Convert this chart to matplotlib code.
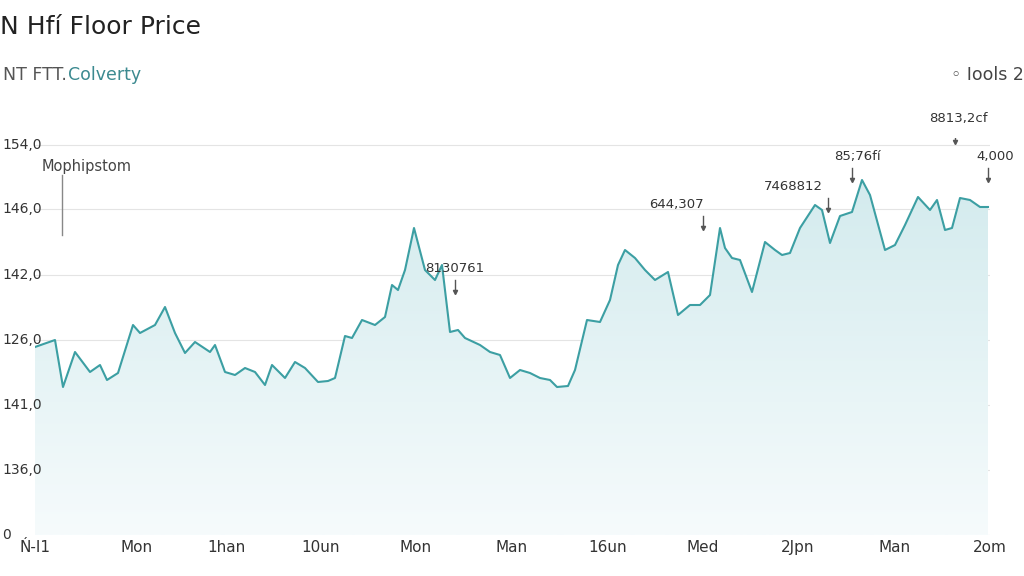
import numpy as np
import matplotlib
matplotlib.use("Agg")
import matplotlib.pyplot as plt
import matplotlib.transforms as mtransforms
from matplotlib.colors import LinearSegmentedColormap

x = [35,55,63,75,90,100,107,118,133,140,155,165,175,185,195,210,215,225,235,245,255,265,272,285,295,305,318,328,335,345,352,362,375,385,392,398,405,414,425,435,442,450,458,465,480,490,500,510,520,530,540,550,557,568,575,587,600,610,618,625,635,645,655,668,678,690,700,710,720,725,732,740,752,765,775,782,790,800,815,822,830,840,852,862,870,885,895,905,918,930,937,945,952,960,970,980,988]
py = [347,340,387,352,372,365,380,373,325,333,325,307,333,353,342,352,345,372,375,368,372,385,365,378,362,368,382,381,378,336,338,320,325,317,285,290,270,228,270,280,265,332,330,338,345,352,355,378,370,373,378,380,387,386,370,320,322,300,265,250,258,270,280,272,315,305,305,295,228,248,258,260,292,242,250,255,253,228,205,210,243,216,212,180,195,250,245,225,197,210,200,230,228,198,200,207,207]
values = [535 - v for v in py]
ytick_vals = [0, 65, 130, 195, 260, 326, 390]
ytick_labels = ["0", "136,0", "141,0", "126,0", "142,0", "146,0", "154,0"]
xtick_vals = [35,137,226,321,416,512,608,703,798,895,990]
xtick_labels = ["Ń-I1","Mon","1han","10un","Mon","Man","16un","Med","2Jpn","Man","2om"]
ann_x = [455,703,828,852,955,988]
ann_y = [535-292,535-228,535-210,535-180,535-142,535-180]
ann_t = ["8130761","644,307","7468812","85;76fí","8813,2cf","4,000"]
ann_dx = [0,-27,-35,5,3,7]

fig = plt.figure(figsize=(10.24,5.76), dpi=100)
ax = fig.add_axes([35/1024, 41/576, 955/1024, 397/576])
ax.set_xlim(35, 990)
ax.set_ylim(0, 397)
line_c = "#3c9fa3"
poly = ax.fill_between(x, values, 0, color="none")
grad = np.linspace(0, 1, 256).reshape(-1, 1)
cmap = LinearSegmentedColormap.from_list("g", ["#f6fbfc", "#cfe9ec"])
im = ax.imshow(grad, cmap=cmap, extent=[35, 990, 0, 397], aspect="auto", origin="lower", zorder=1)
im.set_clip_path(poly.get_paths()[0], transform=ax.transData)
ax.plot(x, values, color=line_c, lw=1.5, zorder=3)
for v in ytick_vals:
    ax.axhline(v, color="#e4e4e4", lw=0.8, zorder=0)
ax.set_yticks(ytick_vals, [""] * len(ytick_vals))
blend = mtransforms.blended_transform_factory(fig.transFigure, ax.transData)
for v, t in zip(ytick_vals, ytick_labels):
    ax.text(2/1024, v, t, transform=blend, fontsize=10, color="#333333", va="center", ha="left", clip_on=False)
ax.set_xticks(xtick_vals, xtick_labels)
ax.tick_params(length=0, labelsize=11, colors="#333333")
for s in ax.spines.values():
    s.set_visible(False)
for xx, yy, t, dx in zip(ann_x, ann_y, ann_t, ann_dx):
    ax.plot([xx, xx], [yy, yy+12], color="#555555", lw=1, zorder=4)
    ax.plot(xx, yy, marker="v", color="#555555", ms=3, zorder=4)
    ax.text(xx+dx, yy+17, t, ha="center", va="bottom", fontsize=9.5, color="#333333", clip_on=False)
ax.plot([62, 62], [535-235, 535-175], color="#888888", lw=1)
ax.text(42, 535-167, "Mophipstom", fontsize=10.5, color="#444444", va="center")
fig.text(0, 1-27/576, "N Hfí Floor Price", fontsize=18, color="#222222", va="center")
fig.text(0.003, 1-75/576, "NT FTT.", fontsize=12.5, color="#555555", va="center")
fig.text(68/1024, 1-75/576, "Colverty", fontsize=12.5, color="#3c8a90", va="center")
fig.text(1.0, 1-75/576, "◦ Iools 2", fontsize=12.5, color="#444444", va="center", ha="right")
fig.savefig("out.png", dpi=100, facecolor="white")
